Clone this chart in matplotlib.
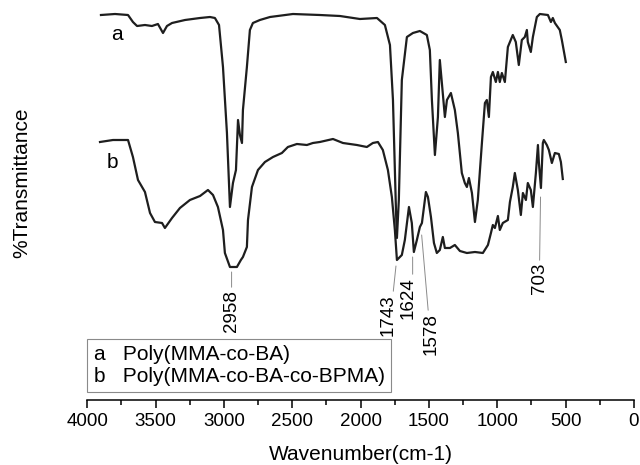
import matplotlib
matplotlib.use("Agg")
import matplotlib.pyplot as plt
from matplotlib.lines import Line2D

plt.rcParams['font.family'] = ['Liberation Sans', 'DejaVu Sans']

# FTIR spectrum a: Poly(MMA-co-BA)  (wavenumber cm-1, transmittance arb.)
wn_a = [3900, 3797, 3702, 3666, 3636, 3578, 3527, 3483, 3446, 3417, 3380, 3285, 3175,
        3102, 3066, 3036, 3007, 2978, 2956, 2934, 2912, 2897, 2883, 2868, 2861, 2832,
        2810, 2788, 2737, 2663, 2495, 2298, 2151, 2005, 1880, 1822, 1785, 1763, 1741,
        1734, 1720, 1698, 1661, 1617, 1566, 1515, 1493, 1478, 1456, 1434, 1420, 1405,
        1383, 1368, 1339, 1310, 1288, 1259, 1237, 1222, 1207, 1185, 1163, 1142, 1112,
        1090, 1076, 1061, 1046, 1032, 1010, 995, 981, 966, 944, 922, 886, 864, 842,
        820, 798, 783, 776, 754, 739, 710, 688, 629, 607, 593, 578, 542, 527, 498]
t_a = [96.25, 96.5, 96.25, 94.5, 93.5, 93.75, 93.5, 94, 91.75, 93.5, 94.25, 95, 95.5,
       95.75, 95.5, 93.75, 83.25, 66.75, 48.25, 54.25, 57.5, 70, 66.25, 64.25, 72.5, 83.25,
       92.5, 94.25, 95, 95.75, 96.5, 96.25, 96, 95.25, 95.5, 93.75, 88.75, 75, 47.5,
       40.5, 50, 80, 90.75, 91.75, 92.25, 91.25, 87.5, 75, 61.25, 70.75, 85, 79.25,
       70.75, 75, 76.75, 72.5, 66.75, 56.75, 54.25, 53.25, 55.5, 51.75, 44.5, 50, 64.25,
       74.25, 75, 70.75, 80.75, 82, 79.5, 82, 79.5, 81.75, 79.5, 88.25, 91.25, 89.5, 83.75,
       90, 90.75, 92.5, 89.5, 87, 90.75, 95.75, 96.5, 96.25, 94.5, 95.5, 94.25, 92.5, 90, 84.5]

# FTIR spectrum b: Poly(MMA-co-BA-co-BPMA)
wn_b = [3907, 3812, 3702, 3666, 3629, 3578, 3541, 3505, 3453, 3432, 3380, 3322, 3249,
        3175, 3117, 3080, 3044, 3007, 2993, 2956, 2905, 2876, 2861, 2832, 2824, 2795,
        2751, 2700, 2641, 2576, 2532, 2466, 2393, 2349, 2298, 2202, 2129, 2027, 1954,
        1910, 1873, 1837, 1800, 1771, 1749, 1734, 1698, 1676, 1646, 1625, 1610, 1588,
        1566, 1551, 1522, 1507, 1485, 1463, 1442, 1420, 1398, 1383, 1346, 1310, 1273,
        1222, 1163, 1105, 1068, 1046, 1032, 1017, 995, 981, 959, 922, 907, 886, 871,
        849, 827, 812, 790, 776, 754, 739, 717, 702, 695, 680, 666, 659, 637, 622,
        600, 578, 549, 534, 520]
t_b = [64.5, 65, 65, 60.75, 55, 52, 46.75, 44.5, 44.25, 43, 45.5, 48, 50,
       51, 52.5, 51.25, 48.25, 42.5, 36.75, 33.25, 33.25, 35, 35.75, 38.25, 45, 53.25,
       57.5, 59.5, 60.75, 61.75, 63.25, 64, 63.75, 64.25, 64.5, 65.25, 64.25, 63.75, 63.25,
       64.25, 64.5, 62.5, 57.5, 50.75, 42.5, 35, 36.25, 40, 48.25, 44.25, 37, 40,
       43.25, 44.25, 52, 50.75, 45.75, 39.25, 36.75, 37.5, 40.75, 38, 38, 38.75, 37.25,
       36.75, 37, 36.75, 38.75, 41.75, 43.75, 43, 46, 42.5, 44.25, 45, 49.5, 53.25, 56.75,
       52.5, 46.25, 51.75, 50, 54.25, 52.5, 48.25, 56.75, 63.75, 59.25, 53, 64.25, 65, 63.75, 62.5,
       59.25, 61.75, 61.5, 59.5, 55.25]

legend_labels = ["a   Poly(MMA-co-BA)", "b   Poly(MMA-co-BA-co-BPMA)"]

# peak labels: text, wavenumber on curve, transmittance on curve
peak_text = ["2958", "1743", "1624", "1578", "703"]
peak_wn = [2944, 1741, 1619, 1553, 683]
peak_t = [32, 33.5, 35.75, 41.25, 50.75]
label_wn = [2944, 1800, 1650, 1485, 690]
label_t = [27.5, 26.5, 30.75, 21.75, 34.25]
label_rel = [(0.5, 1), (0.8, 1), (0.75, 1), (0.35, 1), (0.5, 1)]

fig = plt.figure(figsize=(6.4, 4.65), dpi=100)
ax = fig.add_axes([0.1364, 0.1398, 0.854, 0.8602])

ax.plot(wn_a, t_a, color="#1e1e1e", lw=1.6)
ax.plot(wn_b, t_b, color="#1e1e1e", lw=1.6)

ax.text(3783, 91.25, "a", fontsize=15, ha="center", va="center")
ax.text(3819, 59.25, "b", fontsize=15, ha="center", va="center")

for txt, xw, yt, lx, ly, rel in zip(peak_text, peak_wn, peak_t, label_wn, label_t, label_rel):
    ax.annotate(txt, xy=(xw, yt), xytext=(lx, ly), rotation=90, fontsize=13.5,
                ha="center", va="top",
                arrowprops=dict(arrowstyle="-", color="#8a8a8a", lw=0.7,
                                relpos=rel, shrinkA=0, shrinkB=0))

ax.set_xlim(4000, 0)
ax.set_ylim(0, 100)
ax.set_xticks(range(4000, -1, -500))
ax.set_xticks(range(4000, -1, -250), minor=True)
ax.tick_params(axis="x", which="major", direction="out", length=6, width=1.1, labelsize=13.5)
ax.tick_params(axis="x", which="minor", direction="out", length=3.5, width=1.1)
ax.set_yticks([])
for s in ["top", "left", "right"]:
    ax.spines[s].set_visible(False)
ax.spines["bottom"].set_linewidth(1.1)

ax.set_xlabel("Wavenumber(cm-1)", fontsize=15, labelpad=11)
ax.set_ylabel("%Transmittance", fontsize=15)
ax.yaxis.set_label_coords(-0.102, 0.5425)

handles = [Line2D([], [], linestyle="none") for _ in legend_labels]
leg = ax.legend(handles, legend_labels, loc="lower left", bbox_to_anchor=(0.0, 0.02),
                borderaxespad=0, fontsize=15, handlelength=0, handletextpad=0,
                labelspacing=0.12, borderpad=0.3, fancybox=False, framealpha=1)
leg.get_frame().set_edgecolor("#8a8a8a")
leg.get_frame().set_linewidth(0.8)

fig.savefig("out.png", dpi=100)
